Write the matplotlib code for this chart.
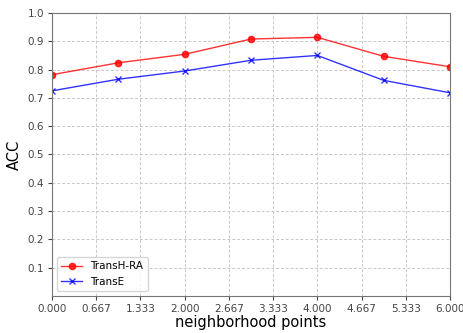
import matplotlib
matplotlib.use("Agg")
import matplotlib.pyplot as plt
import numpy as np

x_vals = [0, 1, 2, 3, 4, 5, 6]
transh_ra = [0.782, 0.824, 0.854, 0.908, 0.914, 0.847, 0.810]
transe = [0.725, 0.766, 0.795, 0.833, 0.850, 0.762, 0.718]
x_ticks = np.linspace(0, 6, 10)
y_ticks = [0.1, 0.2, 0.3, 0.4, 0.5, 0.6, 0.7, 0.8, 0.9, 1.0]

fig = plt.figure(figsize=(4.63, 3.33), dpi=100)
ax = fig.add_axes([52 / 463, 1 - 296 / 333, 398 / 463, 283 / 333])

ax.plot(x_vals, transh_ra, color="red", marker="o", markersize=4.5, linewidth=1, alpha=0.8, label="TransH-RA")
ax.plot(x_vals, transe, color="blue", marker="x", markersize=4, linewidth=1, alpha=0.8, label="TransE")

ax.set_xlim(0, 6)
ax.set_ylim(0, 1.0)
ax.set_xticks(x_ticks)
ax.set_xticklabels([f"{t:.3f}" for t in x_ticks])
ax.set_yticks(y_ticks)
ax.tick_params(labelsize=7.5, colors="#444444", length=3, pad=2.5)
ax.grid(True, linestyle=(0, (3, 2)), color="#c8c8c8", linewidth=0.7)
for s in ax.spines.values():
    s.set_color("#777777")

ax.set_xlabel("neighborhood points", fontsize=10.5, labelpad=1)
ax.set_ylabel("ACC", fontsize=10.5, labelpad=4)
ax.legend(loc="lower left", fontsize=7.5)

fig.savefig("out.png", dpi=100)
